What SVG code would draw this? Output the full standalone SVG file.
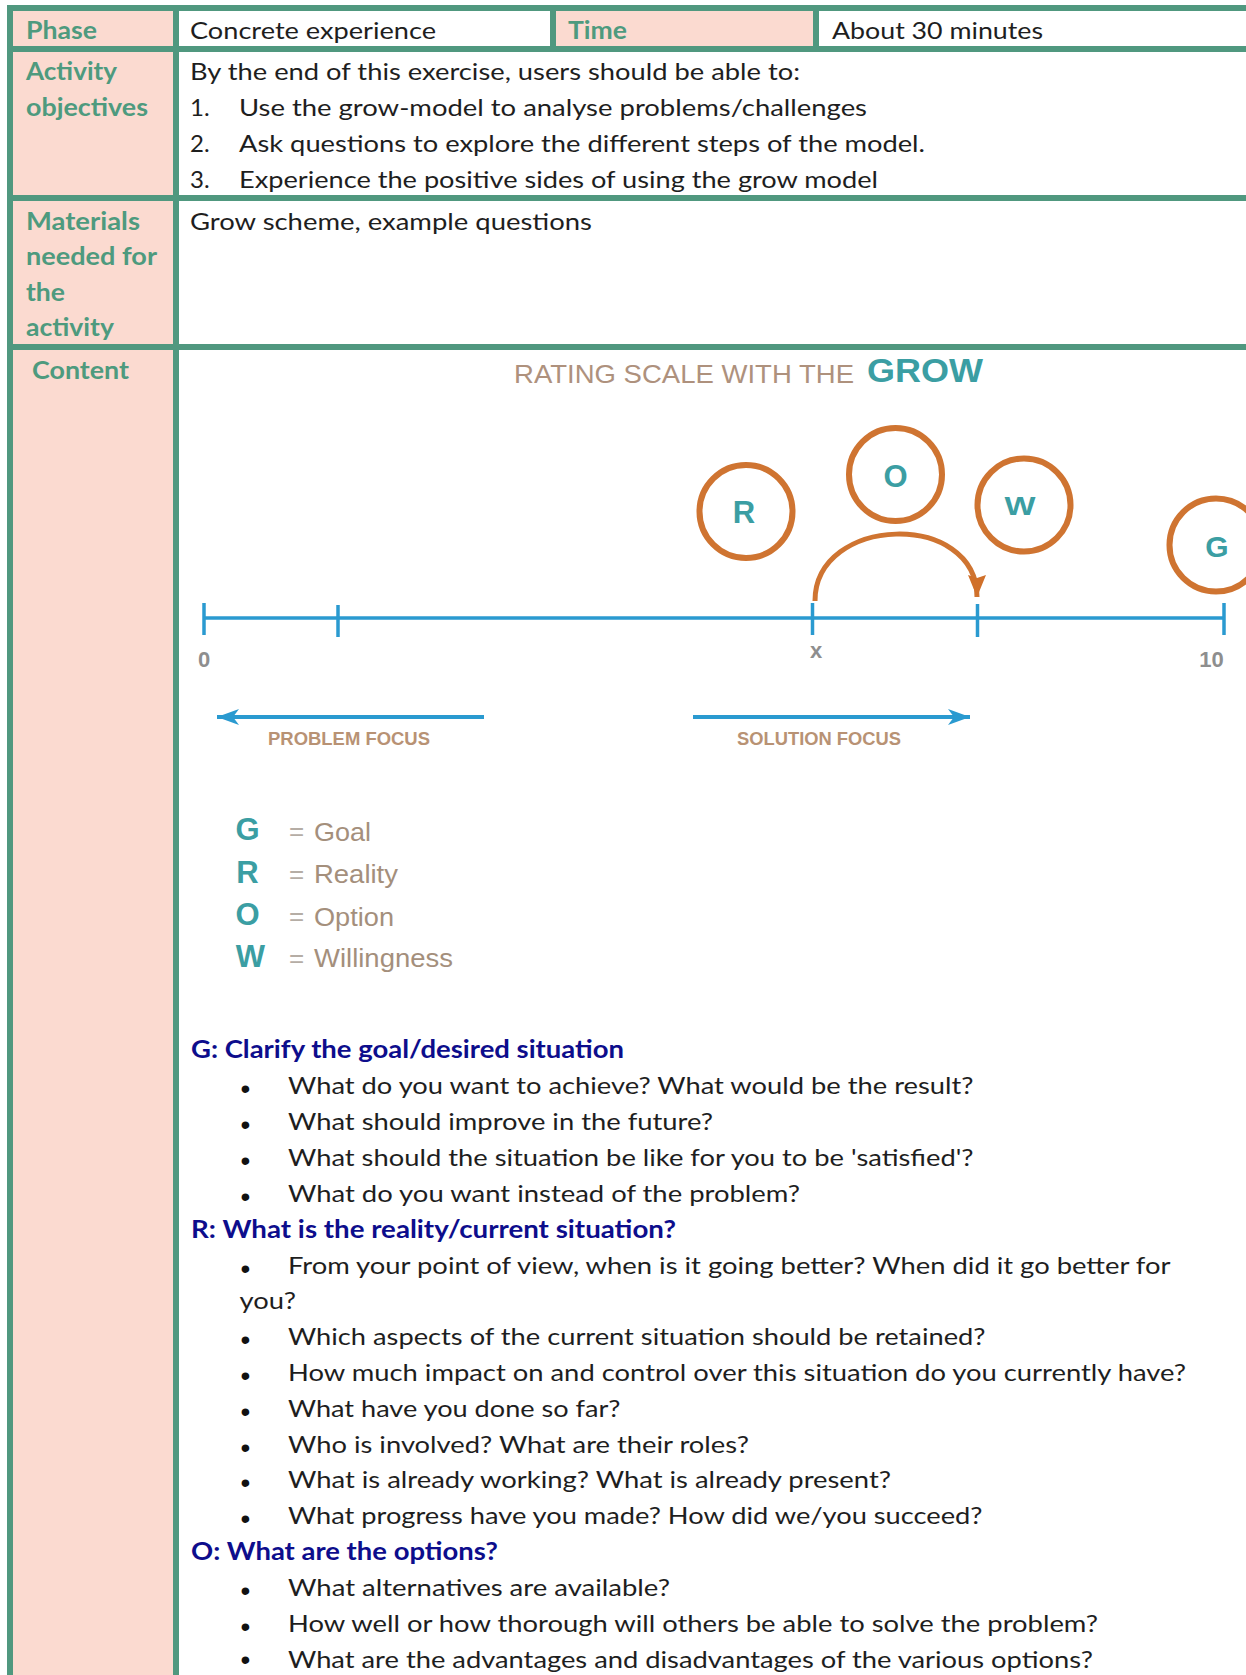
<svg xmlns="http://www.w3.org/2000/svg" width="1246" height="1675" viewBox="0 0 1246 1675">
<defs>
<style>
.pink{fill:#FBDAD0}
.line{fill:#50987F}
.lbl{font-family:Lato,"Open Sans",sans-serif;font-weight:bold;font-size:24px;fill:#4E9A7E}
.txt{font-family:Lato,"Open Sans",sans-serif;font-size:24px;fill:#1E1E1E}
.hdr{font-family:Lato,"Open Sans",sans-serif;font-weight:bold;font-size:24px;fill:#0D0D8C}
.bul{font-family:"Liberation Sans",Arial,sans-serif;font-size:28px;fill:#111}
.ring{fill:none;stroke:#CF7431;stroke-width:6}
.ltr{font-family:"Liberation Sans",Arial,sans-serif;font-weight:bold;fill:#3B9EA3;text-anchor:middle}
.scale{stroke:#2A9AD0;stroke-width:3.5;fill:none}
.num{font-family:"Liberation Sans",Arial,sans-serif;font-weight:bold;font-size:22px;fill:#8E8E8E;text-anchor:middle}
.focus{font-family:"Liberation Sans",Arial,sans-serif;font-weight:bold;font-size:18px;fill:#B89274}
.leg{font-family:"Liberation Sans",Arial,sans-serif;font-size:26px;fill:#A48F7C}
.eq{font-family:"Liberation Sans",Arial,sans-serif;font-size:26px;fill:#B5ADA5}
</style>
<marker id="arrowBlue" markerUnits="userSpaceOnUse" markerWidth="24" markerHeight="18" refX="22" refY="8" orient="auto">
<path d="M0,0 L22,8 L0,16 L6,8 Z" fill="#2A9AD0"/>
</marker>
<marker id="arrowOrange" markerUnits="userSpaceOnUse" markerWidth="26" markerHeight="20" refX="22" refY="9" orient="auto">
<path d="M0,0 L22,9 L0,18 L3,9 Z" fill="#D0702A"/>
</marker>
</defs>
<rect width="1246" height="1675" fill="#FFFFFF"/>

<g id="table">
<g id="cell-phase-label"><rect class="pink" x="13" y="11" width="160" height="35"/><text class="lbl" x="26" y="38.5" textLength="71" lengthAdjust="spacingAndGlyphs">Phase</text></g>
<g id="cell-phase-value"><text class="txt" x="190" y="38.5" textLength="246" lengthAdjust="spacingAndGlyphs">Concrete experience</text></g>
<g id="cell-time-label"><rect class="pink" x="556" y="11" width="257" height="35"/><text class="lbl" x="568" y="38.5" textLength="59" lengthAdjust="spacingAndGlyphs">Time</text></g>
<g id="cell-time-value"><text class="txt" x="832" y="38.5" textLength="211" lengthAdjust="spacingAndGlyphs">About 30 minutes</text></g>

<g id="cell-objectives-label"><rect class="pink" x="13" y="52" width="160" height="143"/>
<text class="lbl" x="26" y="80" textLength="91" lengthAdjust="spacingAndGlyphs">Activity</text>
<text class="lbl" x="26" y="115.5" textLength="122" lengthAdjust="spacingAndGlyphs">objectives</text></g>
<g id="cell-objectives-value">
<text class="txt" x="190" y="79.5" textLength="610" lengthAdjust="spacingAndGlyphs">By the end of this exercise, users should be able to:</text>
<text class="txt" x="190" y="115.5">1.</text>
<text class="txt" x="239" y="115.5" textLength="628" lengthAdjust="spacingAndGlyphs">Use the grow-model to analyse problems/challenges</text>
<text class="txt" x="190" y="151.5">2.</text>
<text class="txt" x="239" y="151.5" textLength="686" lengthAdjust="spacingAndGlyphs">Ask questions to explore the different steps of the model.</text>
<text class="txt" x="190" y="187.5">3.</text>
<text class="txt" x="239" y="187.5" textLength="639" lengthAdjust="spacingAndGlyphs">Experience the positive sides of using the grow model</text>
</g>

<g id="cell-materials-label"><rect class="pink" x="13" y="201" width="160" height="143"/>
<text class="lbl" x="26" y="229.5" textLength="114" lengthAdjust="spacingAndGlyphs">Materials</text>
<text class="lbl" x="26" y="265" textLength="131" lengthAdjust="spacingAndGlyphs">needed for</text>
<text class="lbl" x="26" y="300.5" textLength="39" lengthAdjust="spacingAndGlyphs">the</text>
<text class="lbl" x="26" y="336" textLength="88" lengthAdjust="spacingAndGlyphs">activity</text></g>
<g id="cell-materials-value"><text class="txt" x="190" y="229.5" textLength="402" lengthAdjust="spacingAndGlyphs">Grow scheme, example questions</text></g>

<g id="cell-content-label"><rect class="pink" x="13" y="350" width="160" height="1325"/>
<text class="lbl" x="32" y="379" textLength="97" lengthAdjust="spacingAndGlyphs">Content</text></g>

<g id="grid">
<rect class="line" x="7" y="5" width="1239" height="6"/>
<rect class="line" x="7" y="5" width="6" height="1670"/>
<rect class="line" x="173" y="5" width="6" height="1670"/>
<rect class="line" x="7" y="46" width="1239" height="6"/>
<rect class="line" x="7" y="195" width="1239" height="6"/>
<rect class="line" x="7" y="344" width="1239" height="6"/>
<rect class="line" x="550" y="5" width="6" height="47"/>
<rect class="line" x="813" y="5" width="6" height="47"/>
</g>
</g>

<g id="grow-diagram">
<g id="title">
<text x="514" y="382.5" font-family="Liberation Sans, Arial, sans-serif" font-size="25" fill="#AE917D" textLength="340" lengthAdjust="spacingAndGlyphs">RATING SCALE WITH THE</text>
<text x="867" y="382" font-family="Liberation Sans, Arial, sans-serif" font-weight="bold" font-size="34" fill="#3B9EA3" textLength="116" lengthAdjust="spacingAndGlyphs">GROW</text>
</g>
<g id="node-R"><circle class="ring" cx="746" cy="511.5" r="46.5"/><text class="ltr" x="744" y="523" font-size="31">R</text></g>
<g id="node-O"><circle class="ring" cx="895.5" cy="474.5" r="46.5"/><text class="ltr" x="895.5" y="486.5" font-size="31">O</text></g>
<g id="node-W"><circle class="ring" cx="1024" cy="505" r="46.5"/><text class="ltr" x="1020" y="515" font-size="26" textLength="31" lengthAdjust="spacingAndGlyphs">W</text></g>
<g id="node-G"><circle class="ring" cx="1216" cy="545" r="46.5"/><text class="ltr" x="1217" y="557" font-size="30">G</text></g>

<g id="scale">
<line class="scale" x1="204" y1="618" x2="1224" y2="618"/>
<line class="scale" x1="204" y1="603" x2="204" y2="635"/>
<line class="scale" x1="338" y1="605" x2="338" y2="637"/>
<line class="scale" x1="812.5" y1="603" x2="812.5" y2="635"/>
<line class="scale" x1="977.5" y1="604" x2="977.5" y2="637"/>
<line class="scale" x1="1224" y1="603" x2="1224" y2="635"/>
<text class="num" x="204" y="666.5">0</text>
<text class="num" x="816" y="658" font-size="22">x</text>
<text class="num" x="1211.5" y="667">10</text>
</g>

<g id="connectors">
<path d="M815,601 C815,515 977,510 977,597" fill="none" stroke="#CF7431" stroke-width="5" marker-end="url(#arrowOrange)"/>
<line x1="484" y1="717" x2="217" y2="717" stroke="#2A9AD0" stroke-width="4" marker-end="url(#arrowBlue)"/>
<line x1="693" y1="717" x2="970" y2="717" stroke="#2A9AD0" stroke-width="4" marker-end="url(#arrowBlue)"/>
</g>
<text class="focus" x="268" y="745" textLength="162" lengthAdjust="spacingAndGlyphs">PROBLEM FOCUS</text>
<text class="focus" x="737" y="745" textLength="164" lengthAdjust="spacingAndGlyphs">SOLUTION FOCUS</text>

<g id="legend">
<text class="ltr" x="247.5" y="840" font-size="31">G</text>
<text class="ltr" x="247.5" y="883" font-size="31">R</text>
<text class="ltr" x="247.5" y="925" font-size="31">O</text>
<text class="ltr" x="250.5" y="967" font-size="31">W</text>
<text class="eq" x="289" y="840">=</text><text class="leg" x="314" y="840.5" textLength="57" lengthAdjust="spacingAndGlyphs">Goal</text>
<text class="eq" x="289" y="883">=</text><text class="leg" x="314" y="883" textLength="84" lengthAdjust="spacingAndGlyphs">Reality</text>
<text class="eq" x="289" y="925">=</text><text class="leg" x="314" y="925.5" textLength="80" lengthAdjust="spacingAndGlyphs">Option</text>
<text class="eq" x="289" y="967">=</text><text class="leg" x="314" y="966.5" textLength="139" lengthAdjust="spacingAndGlyphs">Willingness</text>
</g>
</g>

<g id="questions">
<text class="hdr" x="191" y="1058" textLength="433" lengthAdjust="spacingAndGlyphs">G: Clarify the goal/desired situation</text>
<text class="bul" x="240.5" y="1098">•</text><text class="txt" x="288" y="1094" textLength="685.5" lengthAdjust="spacingAndGlyphs">What do you want to achieve? What would be the result?</text>
<text class="bul" x="240.5" y="1134">•</text><text class="txt" x="288" y="1130" textLength="425" lengthAdjust="spacingAndGlyphs">What should improve in the future?</text>
<text class="bul" x="240.5" y="1170">•</text><text class="txt" x="288" y="1166" textLength="685.5" lengthAdjust="spacingAndGlyphs">What should the situation be like for you to be 'satisfied'?</text>
<text class="bul" x="240.5" y="1206">•</text><text class="txt" x="288" y="1202" textLength="512" lengthAdjust="spacingAndGlyphs">What do you want instead of the problem?</text>
<text class="hdr" x="191" y="1238" textLength="485" lengthAdjust="spacingAndGlyphs">R: What is the reality/current situation?</text>
<text class="bul" x="240.5" y="1278">•</text><text class="txt" x="288" y="1274" textLength="882.5" lengthAdjust="spacingAndGlyphs">From your point of view, when is it going better? When did it go better for</text>
<text class="txt" x="239.5" y="1309" textLength="56.5" lengthAdjust="spacingAndGlyphs">you?</text>
<text class="bul" x="240.5" y="1349">•</text><text class="txt" x="288" y="1345" textLength="697.5" lengthAdjust="spacingAndGlyphs">Which aspects of the current situation should be retained?</text>
<text class="bul" x="240.5" y="1385">•</text><text class="txt" x="288" y="1381" textLength="898" lengthAdjust="spacingAndGlyphs">How much impact on and control over this situation do you currently have?</text>
<text class="bul" x="240.5" y="1421">•</text><text class="txt" x="288" y="1417" textLength="332.5" lengthAdjust="spacingAndGlyphs">What have you done so far?</text>
<text class="bul" x="240.5" y="1457">•</text><text class="txt" x="288" y="1453" textLength="461" lengthAdjust="spacingAndGlyphs">Who is involved? What are their roles?</text>
<text class="bul" x="240.5" y="1492">•</text><text class="txt" x="288" y="1488" textLength="603" lengthAdjust="spacingAndGlyphs">What is already working? What is already present?</text>
<text class="bul" x="240.5" y="1528">•</text><text class="txt" x="288" y="1524" textLength="694.5" lengthAdjust="spacingAndGlyphs">What progress have you made? How did we/you succeed?</text>
<text class="hdr" x="191" y="1560" textLength="307" lengthAdjust="spacingAndGlyphs">O: What are the options?</text>
<text class="bul" x="240.5" y="1600">•</text><text class="txt" x="288" y="1596" textLength="382" lengthAdjust="spacingAndGlyphs">What alternatives are available?</text>
<text class="bul" x="240.5" y="1636">•</text><text class="txt" x="288" y="1632" textLength="810" lengthAdjust="spacingAndGlyphs">How well or how thorough will others be able to solve the problem?</text>
<text class="bul" x="240.5" y="1668.5">•</text><text class="txt" x="288" y="1668" textLength="805" lengthAdjust="spacingAndGlyphs">What are the advantages and disadvantages of the various options?</text>
</g>
</svg>
